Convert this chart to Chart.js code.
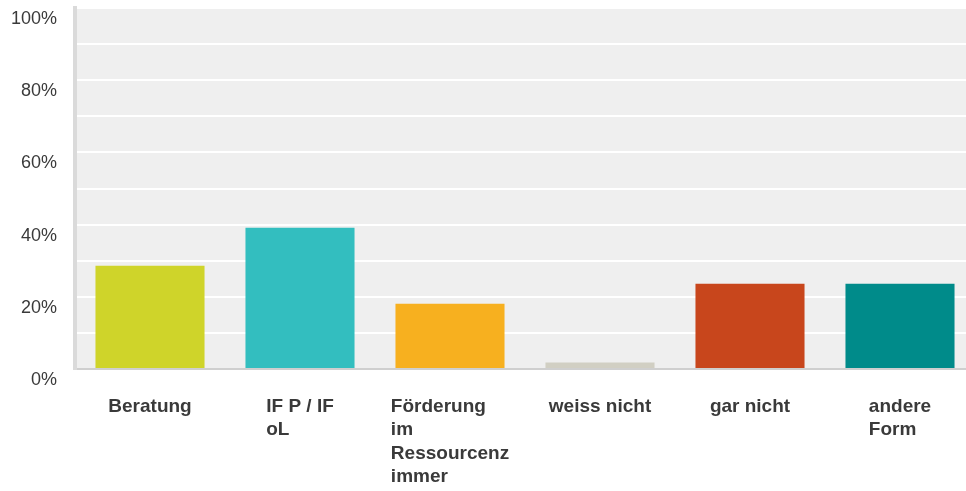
<!DOCTYPE html>
<html>
<head>
<meta charset="utf-8">
<script src="https://cdn.jsdelivr.net/npm/chart.js@4"></script>
<style>
    body { margin: 0; background: #fff; overflow: hidden; }
    #wrap { width: 975px; height: 491px; }
</style>
</head>
<body>
<div id="wrap"><canvas id="myChart" width="975" height="491"></canvas></div>
<script>
// Categories (multi-line labels as the chart shows them)
const categories = [
    ['Beratung'],
    ['IF P / IF', 'oL'],
    ['Förderung', 'im', 'Ressourcenz', 'immer'],
    ['weiss nicht'],
    ['gar nicht'],
    ['andere', 'Form']
];
// Share of answers in percent
const shares = [28.6, 39.1, 18.1, 1.8, 23.6, 23.6];
const barColors = ['#cfd42a', '#33bebf', '#f7b01f', '#d1cfc3', '#c8461c', '#008b8a'];
const yTicks = [0, 20, 40, 60, 80, 100];

// grey plot background
const plotBackground = {
    id: 'plotBackground',
    beforeDraw(chart) {
        const { ctx, chartArea } = chart;
        ctx.save();
        ctx.fillStyle = '#efefef';
        ctx.fillRect(chartArea.left, chartArea.top, chartArea.right - chartArea.left, chartArea.bottom - chartArea.top);
        ctx.restore();
    }
};

// x labels: block centred under the bar, lines left aligned
const blockLabels = {
    id: 'blockLabels',
    afterDraw(chart) {
        const { ctx } = chart;
        const xScale = chart.scales.x;
        ctx.save();
        ctx.font = 'bold 19px "Liberation Sans", Arial, sans-serif';
        ctx.fillStyle = '#3a3a3a';
        ctx.textAlign = 'left';
        ctx.textBaseline = 'alphabetic';
        chart.data.labels.forEach((lines, i) => {
            const cx = xScale.getPixelForValue(i);
            const w = Math.max(...lines.map(l => ctx.measureText(l).width));
            lines.forEach((line, j) => {
                ctx.fillText(line, cx - w / 2, 412 + j * 23.3);
            });
        });
        ctx.restore();
    }
};

const ctx = document.getElementById('myChart').getContext('2d');
new Chart(ctx, {
    type: 'bar',
    data: {
        labels: categories,
        datasets: [{
            data: shares,
            backgroundColor: barColors,
            borderWidth: 0,
            barPercentage: 0.727,
            categoryPercentage: 1.0
        }]
    },
    options: {
        responsive: false,
        animation: false,
        layout: { padding: { top: 8, right: 0, left: 0, bottom: 0 } },
        plugins: {
            legend: { display: false },
            tooltip: { enabled: false }
        },
        scales: {
            x: {
                grid: { display: false },
                border: { color: '#cfcfcf', width: 2 },
                ticks: { display: false },
                afterFit: s => { s.height = 122; }
            },
            y: {
                min: 0,
                max: 100,
                afterFit: s => {
                    s.width = 75;
                    s.paddingTop = 0;
                    s.paddingBottom = 0;
                },
                grid: { color: '#ffffff', lineWidth: 2, drawTicks: false },
                border: { color: '#dadada', width: 4 },
                ticks: {
                    stepSize: 10,
                    padding: 18,
                    labelOffset: 11,
                    color: '#3a3a3a',
                    font: { size: 18, family: '"Liberation Sans", Arial, sans-serif' },
                    callback: v => yTicks.includes(v) ? v + '%' : ''
                }
            }
        }
    },
    plugins: [plotBackground, blockLabels]
});
</script>
</body>
</html>
